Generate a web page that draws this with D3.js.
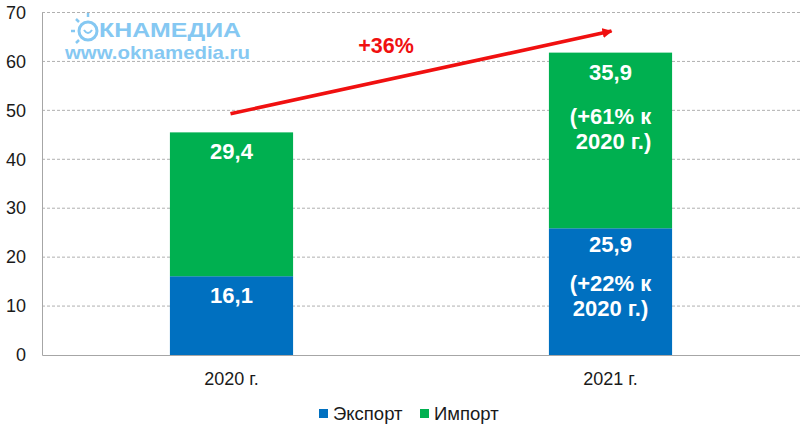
<!DOCTYPE html>
<html lang="ru">
<head>
<meta charset="utf-8">
<title>Экспорт и импорт</title>
<script src="https://cdn.jsdelivr.net/npm/d3@7"></script>
<style>
html, body { margin: 0; padding: 0; background: #fff; }
svg { display: block; }
text { font-family: "Liberation Sans", Arial, sans-serif; }
</style>
</head>
<body>
<script>
var years = ["2020 г.", "2021 г."];
var seriesNames = ["Экспорт", "Импорт"];
var exportValues = [16.1, 25.9];
var importValues = [29.4, 35.9];
var yTicks = [0, 10, 20, 30, 40, 50, 60, 70];
var exportLabels = [["16,1"], ["25,9", "(+22% к", "2020 г.)"]];
var importLabels = [["29,4"], ["35,9", "(+61% к", " 2020 г.)"]];
var arrowValues = [49.3, 66.2];
var growthLabel = "+36%";

var colors = ["#0070c0", "#00b050"];
var width = 800, height = 431;
var plotLeft = 42, plotRight = 800, plotTop = 12.5, plotBottom = 355;

var svg = d3.select("body").append("svg")
  .attr("width", width)
  .attr("height", height);

var x = d3.scaleBand().domain(years).range([plotLeft, plotRight]).paddingInner(0.675).paddingOuter(0.3375);
var y = d3.scaleLinear().domain([0, 70]).range([plotBottom, plotTop]);

// gridlines
svg.selectAll("line.grid")
  .data(yTicks.slice(1))
  .enter().append("line")
  .attr("class", "grid")
  .attr("x1", plotLeft).attr("x2", plotRight)
  .attr("y1", function(d) { return y(d); })
  .attr("y2", function(d) { return y(d); })
  .attr("stroke", "#b0b0b0")
  .attr("stroke-width", 1)
  .attr("stroke-dasharray", "3,2");

// stacked bars
var rows = years.map(function(year, i) {
  return { year: year, exp: exportValues[i], imp: importValues[i] };
});
var stacked = d3.stack().keys(["exp", "imp"])(rows);

svg.selectAll("g.layer")
  .data(stacked)
  .enter().append("g")
  .attr("class", "layer")
  .attr("fill", function(d, i) { return colors[i]; })
  .selectAll("rect")
  .data(function(d) { return d; })
  .enter().append("rect")
  .attr("x", function(d) { return x(d.data.year); })
  .attr("width", x.bandwidth())
  .attr("y", function(d) { return y(d[1]); })
  .attr("height", function(d) { return y(d[0]) - y(d[1]); });

// axes
var yAxis = d3.axisLeft(y).tickValues(yTicks).tickSize(0).tickPadding(16);
var gy = svg.append("g").attr("transform", "translate(" + plotLeft + ",0)").call(yAxis);
gy.select(".domain").attr("stroke", "#a6a6a6");
gy.selectAll("text").attr("font-size", 18).attr("fill", "#1a1a1a")
  .style("font-family", '"Liberation Sans", Arial, sans-serif');

var xAxis = d3.axisBottom(x).tickSize(0).tickPadding(17);
var gx = svg.append("g").attr("transform", "translate(0," + plotBottom + ")").call(xAxis);
gx.select(".domain").attr("stroke", "#a6a6a6");
gx.selectAll("text").attr("font-size", 18).attr("fill", "#1a1a1a")
  .style("font-family", '"Liberation Sans", Arial, sans-serif');

// bar labels
function barLabels(lines, baselines, i) {
  var t = svg.append("text")
    .attr("text-anchor", "middle")
    .attr("fill", "#fff")
    .attr("font-size", 22)
    .attr("font-weight", "bold")
    .style("white-space", "pre");
  lines.forEach(function(line, k) {
    t.append("tspan")
      .attr("x", x(years[i]) + x.bandwidth() / 2)
      .attr("y", baselines[k])
      .text(line);
  });
}
barLabels(exportLabels[0], [303], 0);
barLabels(importLabels[0], [159], 0);
barLabels(exportLabels[1], [252, 291, 316], 1);
barLabels(importLabels[1], [80, 124, 149], 1);

// growth arrow
svg.append("defs").append("marker")
  .attr("id", "head")
  .attr("viewBox", "0 0 10 10")
  .attr("refX", 9).attr("refY", 5)
  .attr("markerUnits", "userSpaceOnUse")
  .attr("markerWidth", 10).attr("markerHeight", 10)
  .attr("orient", "auto")
  .append("path")
  .attr("d", "M0,0L10,5L0,10Z")
  .attr("fill", "#f01010");

svg.append("line")
  .attr("x1", x(years[0]) + x.bandwidth() / 2 - 1)
  .attr("x2", x(years[1]) + x.bandwidth() / 2 + 1)
  .attr("y1", y(arrowValues[0]))
  .attr("y2", y(arrowValues[1]))
  .attr("stroke", "#f01010")
  .attr("stroke-width", 3.6)
  .attr("marker-end", "url(#head)");

svg.append("text")
  .attr("x", 386).attr("y", 53)
  .attr("text-anchor", "middle")
  .attr("fill", "#f01010")
  .attr("font-size", 21.5)
  .attr("font-weight", "bold")
  .text(growthLabel);

// watermark
var logo = svg.append("g").attr("fill", "#85c8f2").attr("stroke", "none");
logo.append("text").attr("x", 99).attr("y", 37)
  .attr("font-size", 21).attr("font-weight", "bold").attr("textLength", 142)
  .attr("lengthAdjust", "spacingAndGlyphs")
  .text("КНАМЕДИА");
logo.append("text").attr("x", 65).attr("y", 59)
  .attr("font-size", 18.5).attr("font-weight", "bold").attr("textLength", 185)
  .attr("lengthAdjust", "spacingAndGlyphs")
  .text("www.oknamedia.ru");

var sun = svg.append("g").attr("transform", "translate(88,31)")
  .attr("fill", "none").attr("stroke", "#85c8f2");
sun.append("circle").attr("r", 9).attr("stroke-width", 3);
sun.append("path").attr("d", "M-4,-1 Q0,5 4,-1").attr("stroke-width", 2);
[[-17, 0, -13, 0], [-12, -12, -9, -9], [-12, 12, -9, 9], [0, -18, 0, -14]].forEach(function(r) {
  sun.append("line")
    .attr("x1", r[0]).attr("y1", r[1])
    .attr("x2", r[2]).attr("y2", r[3])
    .attr("stroke-width", 2.5);
});

// legend
var legendX = [319, 420];
var legend = svg.selectAll("g.legend")
  .data(seriesNames)
  .enter().append("g")
  .attr("class", "legend")
  .attr("transform", function(d, i) { return "translate(" + legendX[i] + ",409)"; });
legend.append("rect")
  .attr("width", 9).attr("height", 9)
  .attr("fill", function(d, i) { return colors[i]; });
legend.append("text")
  .attr("x", 14).attr("y", 11)
  .attr("font-size", 18.5)
  .attr("fill", "#1a1a1a")
  .text(function(d) { return d; });
</script>
</body>
</html>
